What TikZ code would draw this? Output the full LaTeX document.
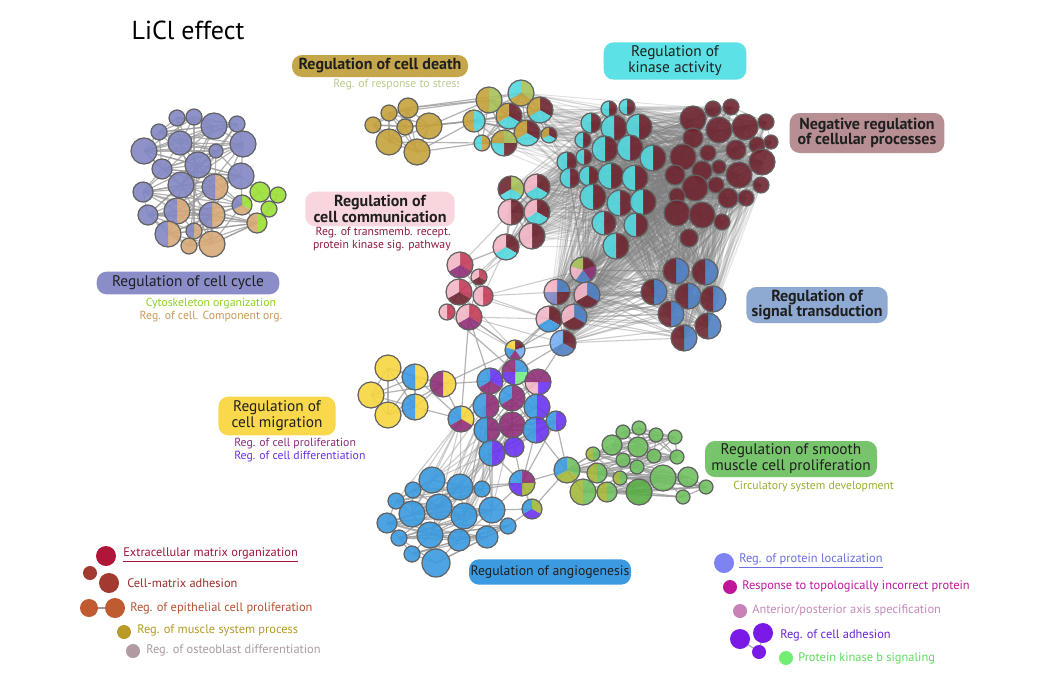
\documentclass[tikz,border=0pt]{standalone}
\usepackage{fontspec}
\setmainfont{PT Sans}
\pgfdeclarelayer{bg}
\pgfdeclarelayer{edges}
\pgfsetlayers{bg,edges,main}
\definecolor{lav}{HTML}{8287C3}
\definecolor{tan}{HTML}{D8AA78}
\definecolor{lime}{HTML}{9BE034}
\definecolor{gold}{HTML}{C6A23C}
\definecolor{olv}{HTML}{A8C25A}
\definecolor{cyn}{HTML}{52D8DE}
\definecolor{mar}{HTML}{6E2630}
\definecolor{pink}{HTML}{F3B6C6}
\definecolor{crim}{HTML}{C43C58}
\definecolor{purp}{HTML}{8E2F78}
\definecolor{stb}{HTML}{4E80C4}
\definecolor{blu}{HTML}{3B9BE0}
\definecolor{ltb}{HTML}{78B0F5}
\definecolor{yel}{HTML}{F8D640}
\definecolor{vio}{HTML}{6A34F0}
\definecolor{grn}{HTML}{70C060}
\definecolor{dgrn}{HTML}{58AC44}
\definecolor{olt}{HTML}{A6B83A}
\definecolor{lgr}{HTML}{78EE88}
% boxes
\definecolor{cdbox}{HTML}{C6A64A}
\definecolor{kabox}{HTML}{5CE1E6}
\definecolor{nrbox}{HTML}{B78E92}
\definecolor{cmbox}{HTML}{F9D6DE}
\definecolor{ccbox}{HTML}{8A8DC8}
\definecolor{stbox}{HTML}{8EA9D2}
\definecolor{mgbox}{HTML}{F9D84C}
\definecolor{smbox}{HTML}{78C46C}
\definecolor{anbox}{HTML}{3C9BE0}
% sub texts
\definecolor{stressc}{HTML}{B7CC8C}
\definecolor{tmc}{HTML}{8E1B3E}
\definecolor{cytc}{HTML}{8CD420}
\definecolor{compc}{HTML}{C8985C}
\definecolor{prolc}{HTML}{8A2C7A}
\definecolor{difc}{HTML}{6A30E8}
\definecolor{circc}{HTML}{9AB030}
% legends
\definecolor{ecm}{HTML}{B0163A}\definecolor{ecmt}{HTML}{A0163C}
\definecolor{cma}{HTML}{A23A30}\definecolor{cmat}{HTML}{9B2F2C}
\definecolor{epi}{HTML}{C05A30}\definecolor{epit}{HTML}{B65230}
\definecolor{mus}{HTML}{B89A28}\definecolor{must}{HTML}{B39A28}
\definecolor{ost}{HTML}{B09BA4}\definecolor{ostt}{HTML}{A99BA3}
\definecolor{ploc}{HTML}{7E82F2}\definecolor{ploct}{HTML}{6B6FE0}
\definecolor{topo}{HTML}{C0179A}\definecolor{topot}{HTML}{C0189C}
\definecolor{axis}{HTML}{C882B8}\definecolor{axist}{HTML}{C58AB8}
\definecolor{adh}{HTML}{7A1AE6}\definecolor{adht}{HTML}{6A22D6}
\definecolor{pkb}{HTML}{72EE72}\definecolor{pkbt}{HTML}{5EDC5E}

\newcommand\pn[7]{%
  \coordinate (#1) at (#2,#3);%
  \pgfmathsetmacro\da{360/#5}%
  \foreach \colr [count=\kk] in {#7}{%
    \pgfmathsetmacro\sa{#6+(\kk-1)*\da}%
    \fill[\colr, fill opacity=0.9] (#2,#3) -- ++(\sa:#4) arc[start angle=\sa, delta angle=\da, radius=#4] -- cycle;}%
  \draw[nb] (#2,#3) circle[radius=#4];}
\newcommand\fn[5]{\coordinate (#1) at (#2,#3);\fill[#5, fill opacity=0.9] (#2,#3) circle[radius=#4];\draw[nb] (#2,#3) circle[radius=#4];}
\newcommand\hn[6]{\pn{#1}{#2}{#3}{#4}{2}{-90}{#6,#5}}
\newcommand\chain[4]{%
  \foreach \ii in {1,...,#2}{\foreach \dd in {1,...,#3}{%
    \pgfmathtruncatemacro\jj{\ii+\dd}%
    \ifnum\jj>#2\relax\else\draw[#4] (#1\ii) -- (#1\jj);\fi}}}
\newcommand\pairsin[3]{%
  \foreach \aa in {#2}{\foreach \bb in {#2}{%
    \ifnum\aa<\bb\relax\draw[#3] (#1\aa) -- (#1\bb);\fi}}}
\newcommand\bip[5]{%
  \foreach \aa in {#2}{\foreach \bb in {#4}{\draw[#5] (#1\aa) -- (#3\bb);}}}

\begin{document}
\begin{tikzpicture}[x=0.75pt,y=-0.75pt,
  nb/.style={draw=black!62, line width=0.9pt},
  edge/.style={draw=black!40, line width=0.9pt, opacity=0.75},
  mid/.style={draw=black!40, line width=0.8pt, opacity=0.5},
  dense/.style={draw=black!50, line width=0.8pt, opacity=0.22},
  lab/.style={rounded corners=7.5pt, inner sep=0pt, align=center, text=black!88, font=\fontsize{11.5}{12}\selectfont},
  labb/.style={lab, font=\fontsize{12}{11.5}\selectfont\bfseries},
  sub/.style={font=\fontsize{8.8}{9.8}\selectfont, inner sep=0pt},
  leg/.style={font=\fontsize{9.3}{10}\selectfont, inner sep=0pt, anchor=west}]
\useasboundingbox (0,0) rectangle (1060,682);
\begin{pgfonlayer}{bg}
\fill[white] (0,0) rectangle (1060,682);
\end{pgfonlayer}

% ---------------- cell cycle cluster
\fn{cc1}{177}{118}{8}{lav}
\fn{cc2}{194}{117}{8}{lav}
\fn{cc3}{214}{126}{13}{lav}
\fn{cc4}{237}{124}{8}{lav}
\fn{cc5}{159}{132}{8}{lav}
\fn{cc6}{180}{143}{12}{lav}
\fn{cc7}{144}{151}{13}{lav}
\fn{cc8}{243}{144}{13}{lav}
\fn{cc9}{216}{151}{7}{lav}
\fn{cc10}{162}{169}{10}{lav}
\fn{cc11}{198}{165}{13}{lav}
\fn{cc12}{241}{176}{13}{lav}
\fn{cc13}{181}{185}{13}{lav}
\hn{cc14}{215}{187}{13}{lav}{tan}
\fn{cc15}{143}{192}{10}{lav}
\pn{cc16}{242}{205}{10}{3}{-90}{lime,tan,lav}
\hn{cc17}{177}{211}{13}{lav}{tan}
\fn{cc18}{148}{215}{10}{lav}
\hn{cc19}{212}{215}{13}{lav}{tan}
\hn{cc20}{257}{223}{10}{tan}{lime}
\hn{cc21}{168}{234}{13}{lav}{tan}
\hn{cc22}{194}{231}{8}{lav}{tan}
\fn{cc23}{189}{246}{8}{tan}
\fn{cc24}{212}{244}{13}{tan}
\fn{cl1}{260}{192}{10}{lime}
\fn{cl2}{278}{195}{8}{lime}
\fn{cl3}{269}{209}{8}{lime}

% ---------------- cell death cluster
\fn{cd1}{373}{125}{8}{gold}
\fn{cd2}{389}{113}{8}{gold}
\fn{cd3}{408}{108}{10}{gold}
\fn{cd4}{405}{127}{8}{gold}
\fn{cd5}{429}{126}{13}{gold}
\fn{cd6}{389}{142}{13}{gold}
\fn{cd7}{417}{152}{13}{gold}
% mixed
\hn{mx1}{489}{100}{13}{gold}{olv}
\pn{mx2}{521}{93}{13}{3}{-90}{olv,gold,cyn}
\pn{mx3}{540}{110}{13}{3}{-90}{mar,cyn,gold}
\hn{mx4}{474}{121}{11}{gold}{cyn}
\pn{mx5}{509}{116}{13}{3}{-90}{mar,cyn,gold}
\pn{mx6}{527}{133}{13}{3}{-90}{mar,cyn,gold}
\hn{mx7}{482}{143}{8}{cyn}{gold}
\pn{mx8}{504}{143}{13}{4}{-90}{olv,mar,cyn,gold}
\pn{mx9}{549}{135}{8}{3}{-90}{mar,cyn,gold}

% ---------------- kinase cluster
\hn{ka1}{609}{109}{8}{cyn}{mar}
\hn{ka2}{627}{107}{8}{cyn}{mar}
\hn{ka3}{591}{123}{10}{cyn}{mar}
\hn{ka4}{614}{128}{13}{cyn}{mar}
\hn{ka5}{639}{127}{13}{cyn}{mar}
\hn{ka6}{583}{140}{8}{cyn}{mar}
\hn{ka7}{605}{149}{13}{cyn}{mar}
\hn{ka8}{630}{148}{13}{cyn}{mar}
\hn{ka9}{653}{158}{13}{cyn}{mar}
\hn{ka10}{567}{162}{10}{cyn}{mar}
\hn{ka11}{584}{157}{8}{cyn}{mar}
\hn{ka12}{570}{178}{10}{cyn}{mar}
\hn{ka13}{589}{176}{10}{cyn}{mar}
\hn{ka14}{611}{176}{13}{cyn}{mar}
\hn{ka15}{635}{178}{13}{cyn}{mar}
\hn{ka16}{593}{197}{13}{cyn}{mar}
\hn{ka17}{620}{203}{13}{cyn}{mar}
\hn{ka18}{643}{202}{13}{cyn}{mar}
\hn{ka19}{604}{223}{12}{cyn}{mar}
\hn{ka20}{636}{225}{12}{cyn}{mar}
\hn{ka21}{616}{246}{13}{cyn}{mar}

% ---------------- negative regulation cluster
\fn{nr1}{693}{119}{13}{mar}
\fn{nr2}{713}{109}{8}{mar}
\fn{nr3}{731}{107}{8}{mar}
\fn{nr4}{745}{127}{13}{mar}
\fn{nr5}{766}{122}{8}{mar}
\fn{nr6}{719}{130}{13}{mar}
\fn{nr7}{757}{145}{8}{mar}
\fn{nr8}{771}{142}{7}{mar}
\fn{nr9}{693}{138}{10}{mar}
\fn{nr10}{683}{157}{13}{mar}
\fn{nr11}{708}{153}{8}{mar}
\fn{nr12}{736}{150}{10}{mar}
\fn{nr13}{762}{162}{13}{mar}
\fn{nr14}{675}{175}{10}{mar}
\fn{nr15}{702}{171}{10}{mar}
\fn{nr16}{719}{167}{7}{mar}
\fn{nr17}{739}{175}{13}{mar}
\fn{nr18}{761}{185}{8}{mar}
\fn{nr19}{695}{188}{13}{mar}
\fn{nr20}{716}{185}{8}{mar}
\fn{nr21}{677}{196}{8}{mar}
\fn{nr22}{728}{198}{10}{mar}
\fn{nr23}{746}{198}{8}{mar}
\fn{nr24}{677}{213}{13}{mar}
\fn{nr25}{702}{215}{13}{mar}
\fn{nr26}{722}{222}{8}{mar}
\fn{nr27}{689}{238}{9}{mar}

% ---------------- cell communication
\pn{cm1}{511}{189}{13}{3}{-90}{olv,cyn,mar}
\pn{cm2}{537}{187}{13}{3}{-90}{mar,cyn,pink}
\hn{cm3}{511}{212}{13}{pink}{mar}
\pn{cm4}{537}{212}{13}{3}{-90}{mar,cyn,pink}
\hn{cm5}{532}{236}{13}{pink}{mar}
\pn{cm6}{506}{247}{13}{3}{-90}{mar,cyn,pink}
\pn{cm7}{460}{265}{13}{3}{-90}{crim,purp,pink}
\pn{cm8}{479}{277}{8}{3}{-90}{crim,mar,pink}
\pn{cm9}{459}{292}{13}{3}{-90}{crim,mar,pink}
\hn{cm10}{483}{296}{10}{pink}{crim}
\hn{cm11}{447}{312}{8}{pink}{crim}
\pn{cm12}{469}{317}{13}{3}{-90}{crim,purp,pink}
\pn{cm13}{583}{270}{13}{5}{-90}{mar,purp,stb,pink,olv}
\pn{cm14}{557}{292}{13}{4}{-90}{stb,mar,lav,pink}
\pn{cm15}{587}{295}{13}{3}{-90}{stb,mar,pink}
\pn{cm16}{549}{319}{13}{3}{-90}{mar,blu,pink}
\pn{cm17}{574}{317}{13}{3}{-90}{stb,mar,pink}
\pn{cm18}{563}{343}{13}{3}{-90}{mar,stb,ltb}
\pn{cm19}{515}{350}{10}{5}{-90}{mar,ltb,purp,blu,yel}

% ---------------- signal transduction
\hn{st1}{676}{271}{13}{mar}{stb}
\hn{st2}{705}{272}{13}{mar}{stb}
\hn{st3}{654}{292}{13}{mar}{stb}
\hn{st4}{688}{296}{13}{mar}{stb}
\hn{st5}{713}{299}{13}{mar}{stb}
\hn{st6}{671}{314}{13}{mar}{stb}
\hn{st7}{708}{326}{13}{mar}{stb}
\hn{st8}{684}{338}{13}{mar}{stb}

% ---------------- migration / proliferation
\fn{mg1}{388}{368}{13}{yel}
\hn{mg2}{415}{377}{13}{blu}{yel}
\hn{mg3}{443}{384}{13}{purp}{yel}
\fn{mg4}{371}{395}{13}{yel}
\fn{mg5}{388}{415}{13}{yel}
\hn{mg6}{415}{407}{13}{blu}{yel}
\pn{mg7}{461}{419}{13}{3}{-90}{yel,purp,blu}
\pn{pr1}{490}{381}{13}{3}{-90}{vio,purp,blu}
\pn{pr2}{515}{372}{13}{4}{-90}{blu,lgr,vio,purp}
\pn{pr3}{538}{382}{13}{4}{-90}{purp,vio,pink,purp}
\hn{pr4}{486}{406}{13}{blu}{purp}
\pn{pr5}{512}{398}{13}{3}{-90}{purp,purp,blu}
\hn{pr6}{537}{407}{13}{blu}{vio}
\hn{pr7}{487}{430}{13}{blu}{purp}
\fn{pr8}{512}{425}{13}{purp}
\hn{pr9}{536}{430}{13}{blu}{vio}
\hn{pr10}{556}{421}{10}{blu}{vio}
\hn{pr11}{492}{453}{13}{blu}{vio}
\fn{pr12}{514}{447}{10}{vio}
\pn{pr13}{522}{483}{13}{4}{-90}{purp,olt,vio,blu}
\pn{pr14}{532}{509}{10}{3}{-90}{olt,vio,blu}

% ---------------- angiogenesis
\fn{an1}{432}{480}{13}{blu}
\fn{an2}{413}{490}{8}{blu}
\fn{an3}{460}{487}{13}{blu}
\fn{an4}{482}{489}{8}{blu}
\fn{an5}{396}{501}{8}{blu}
\fn{an6}{412}{514}{13}{blu}
\fn{an7}{439}{507}{13}{blu}
\fn{an8}{464}{516}{13}{blu}
\fn{an9}{492}{510}{13}{blu}
\fn{an10}{387}{523}{10}{blu}
\fn{an11}{430}{535}{13}{blu}
\fn{an12}{399}{538}{8}{blu}
\fn{an13}{459}{540}{11}{blu}
\fn{an14}{487}{537}{11}{blu}
\fn{an15}{508}{526}{8}{blu}
\fn{an16}{412}{554}{8}{blu}
\fn{an17}{436}{563}{14}{blu}

% ---------------- smooth muscle
\fn{sm1}{623}{432}{7}{grn}
\fn{sm2}{639}{428}{7}{grn}
\fn{sm3}{656}{435}{7}{grn}
\fn{sm4}{675}{437}{7}{grn}
\fn{sm5}{612}{445}{10}{grn}
\fn{sm6}{638}{447}{10}{grn}
\fn{sm7}{654}{456}{7}{grn}
\fn{sm8}{677}{457}{7}{grn}
\hn{sm9}{593}{454}{7}{olt}{grn}
\fn{sm10}{623}{460}{7}{grn}
\fn{sm11}{637}{467}{7}{grn}
\pn{sm12}{567}{470}{13}{3}{-90}{grn,olt,blu}
\hn{sm13}{597}{473}{10}{olt}{grn}
\hn{sm14}{620}{478}{7}{olt}{grn}
\fn{sm15}{663}{478}{13}{grn}
\fn{sm16}{688}{477}{10}{grn}
\fn{sm17}{706}{487}{7}{grn}
\hn{sm18}{583}{492}{13}{olt}{grn}
\hn{sm19}{607}{492}{10}{olt}{grn}
\fn{sm20}{639}{492}{13}{dgrn}
\fn{sm21}{683}{497}{7}{grn}

% ---------------- edges
\begin{pgfonlayer}{edges}
\chain{cc}{24}{5}{edge}
\foreach \a/\b in {1/11,3/13,5/14,7/19,2/22,8/21,4/17,6/24,10/12,15/3,9/18,13/24,11/23,3/11,8/19}{\draw[edge] (cc\a) -- (cc\b);}
\draw[edge] (cc16) -- (cl1) (cl1) -- (cl2) (cl1) -- (cl3) (cl2) -- (cl3) (cl3) -- (cc20) (cc12) -- (cl1) (cc20) -- (cc24) (cc16) -- (cc24);
\pairsin{cd}{1,...,7}{edge}
\foreach \a/\b in {5/1,5/4,3/1,7/4,7/7,5/5,4/4,3/2,2/1,6/7}{\draw[edge] (cd\a) -- (mx\b);}
\pairsin{mx}{1,...,9}{edge}
\bip{mx}{1,...,9}{ka}{1,3,4,6,7,10,11,12}{dense}
\bip{mx}{2,3,5,6,9}{nr}{1,2,6,9,10}{dense}
\chain{ka}{21}{5}{mid}
\chain{nr}{27}{4}{mid}
\bip{ka}{1,...,21}{nr}{1,...,27}{dense}
\bip{ka}{1,...,21}{st}{1,...,8}{dense}
\bip{nr}{1,...,27}{st}{1,...,8}{dense}
\pairsin{cm}{1,...,6}{edge}
\bip{cm}{1,...,6}{ka}{1,...,21}{dense}
\bip{cm}{1,...,6}{nr}{1,5,10,14,19,24}{dense}
\foreach \a/\b in {7/8,7/9,8/9,8/10,9/10,9/11,9/12,10/12,11/12,7/10,8/12}{\draw[edge] (cm\a) -- (cm\b);}
\foreach \a/\b in {7/6,7/3,8/6,9/6,10/6,10/16,12/19,11/19,9/19,12/18,10/14,8/5,12/16,7/5,9/16,10/13}{\draw[mid] (cm\a) -- (cm\b);}
\pairsin{cm}{13,...,18}{edge}
\bip{cm}{13,...,18}{ka}{1,...,21}{dense}
\bip{cm}{13,...,18}{nr}{1,...,27}{dense}
\bip{cm}{13,...,18}{st}{1,...,8}{dense}
\bip{cm}{13,...,18}{st}{1,...,8}{dense}
\foreach \b in {12,16,18,17}{\draw[edge] (cm19) -- (cm\b);}
\draw[edge] (cm19) -- (pr1) (cm19) -- (pr2) (cm19) -- (pr3) (cm19) -- (mg7) (cm18) -- (pr3) (cm18) -- (pr2) (cm16) -- (pr1) (cm12) -- (pr1) (cm12) -- (mg7) (cm11) -- (pr2);
\pairsin{mg}{1,...,6}{edge}
\foreach \b in {2,3,6}{\draw[edge] (mg7) -- (mg\b);}
\draw[edge] (mg3) -- (pr1) (mg7) -- (pr1) (mg7) -- (pr4) (mg7) -- (pr7) (mg3) -- (cm19);
\chain{pr}{12}{4}{edge}
\draw[edge] (pr11) -- (pr13) (pr12) -- (pr13) (pr13) -- (pr14) (pr9) -- (pr13) (pr10) -- (pr13);
\bip{pr}{4,7,8,11}{an}{1,3,4,7,8,9,11,13}{mid}
\bip{mg}{7}{an}{1,2,3,5,6,7}{mid}
\chain{an}{17}{5}{edge}
\draw[edge] (pr13) -- (an9) (pr13) -- (an3) (pr14) -- (an9) (pr14) -- (an15) (pr13) -- (an4);
\chain{sm}{21}{6}{edge}
\draw[edge] (pr13) -- (sm12) (pr14) -- (sm12) (pr10) -- (sm12) (sm12) -- (sm9) (sm12) -- (sm13) (sm12) -- (sm18) (pr9) -- (sm12);
\pairsin{st}{1,...,8}{edge}
\end{pgfonlayer}

% ---------------- labels
\node (title) at (188,30) {\fontsize{19.5}{22}\selectfont LiCl effect};
\node[labb, fill=cdbox, minimum width=132pt, minimum height=16.5pt] (Lcd) at (380,66) {Regulation of cell death};
\begin{scope}
\clip (300,76) rectangle (458,95);
\node[sub, text=stressc, anchor=west] (Lstress) at (333,85) {Reg. of response to stress};
\end{scope}
\node[lab, fill=kabox, minimum width=107pt, minimum height=28pt] (Lka) at (675,61) {Regulation of\\kinase activity};
\node[labb, fill=nrbox, minimum width=116pt, minimum height=30pt] (Lnr) at (867,133) {Negative regulation\\of cellular processes};
\node[labb, fill=cmbox, minimum width=112pt, minimum height=26pt] (Lcm) at (380,209) {Regulation of\\cell communication};
\node[sub, text=tmc, align=right, anchor=east] (Ltm) at (451,239) {Reg. of transmemb. recept.\\protein kinase sig. pathway};
\node[lab, fill=ccbox, minimum width=137pt, minimum height=17pt] (Lcc) at (188,283) {Regulation of cell cycle};
\node[sub, align=center] (Lcyt) at (211,310) {\textcolor{cytc}{Cytoskeleton organization}\\\textcolor{compc}{Reg. of cell. Component org.}};
\node[labb, fill=stbox, minimum width=106pt, minimum height=27pt] (Lst) at (817,305) {Regulation of\\signal transduction};
\node[lab, fill=mgbox, minimum width=88pt, minimum height=29pt] (Lmg) at (277,416) {Regulation of\\cell migration};
\node[sub, align=left, anchor=west] (Lpr) at (234,450) {\textcolor{prolc}{Reg. of cell proliferation}\\\textcolor{difc}{Reg. of cell differentiation}};
\node[lab, fill=smbox, minimum width=129pt, minimum height=27pt] (Lsm) at (791,459) {Regulation of smooth\\muscle cell proliferation};
\node[sub, text=circc, anchor=west] (Lcirc) at (733,487) {Circulatory system development};
\node[lab, fill=anbox, minimum width=121.5pt, minimum height=19pt, font=\fontsize{10.3}{12}\selectfont] (Lan) at (550,572) {Regulation of angiogenesis};

% ---------------- legend left
\fill[ecm] (106,556) circle[radius=10];
\node[leg, text=ecmt] (g1) at (123,555) {\underline{Extracellular matrix organization}};
\fill[cma] (90,573) circle[radius=7];
\fill[cma] (109,583) circle[radius=10];
\node[leg, text=cmat] (g2) at (127,583) {Cell-matrix adhesion};
\coordinate (e1) at (89,608); \coordinate (e2) at (115,608);
\draw[black!40, line width=1pt] (e1) -- (e2);
\fill[epi] (e1) circle[radius=9];
\fill[epi] (e2) circle[radius=10];
\node[leg, text=epit] (g3) at (130,608) {Reg. of epithelial cell proliferation};
\fill[mus] (124,632) circle[radius=7];
\node[leg, text=must] (g4) at (137,630) {Reg. of muscle system process};
\fill[ost] (133,651) circle[radius=7];
\node[leg, text=ostt] (g5) at (146,650) {Reg. of osteoblast differentiation};

% ---------------- legend right
\fill[ploc] (724,563) circle[radius=10];
\node[leg, text=ploct] (h1) at (739,561) {\underline{Reg. of protein localization}};
\fill[topo] (730,587) circle[radius=7];
\node[leg, text=topot] (h2) at (742,586) {Response to topologically incorrect protein};
\fill[axis] (740,611) circle[radius=7];
\node[leg, text=axist] (h3) at (752,610) {Anterior/posterior axis specification};
\coordinate (a1) at (740,639); \coordinate (a2) at (763,633); \coordinate (a3) at (759,652);
\draw[black!35, line width=0.8pt] (a1) -- (a3) (a2) -- (a3);
\fill[adh] (a1) circle[radius=10];
\fill[adh] (a2) circle[radius=10];
\fill[adh] (a3) circle[radius=7];
\node[leg, text=adht] (h4) at (780,635) {Reg. of cell adhesion};
\fill[pkb] (786,658) circle[radius=7];
\node[leg, text=pkbt] (h5) at (798,658) {Protein kinase b signaling};
\end{tikzpicture}
\end{document}
